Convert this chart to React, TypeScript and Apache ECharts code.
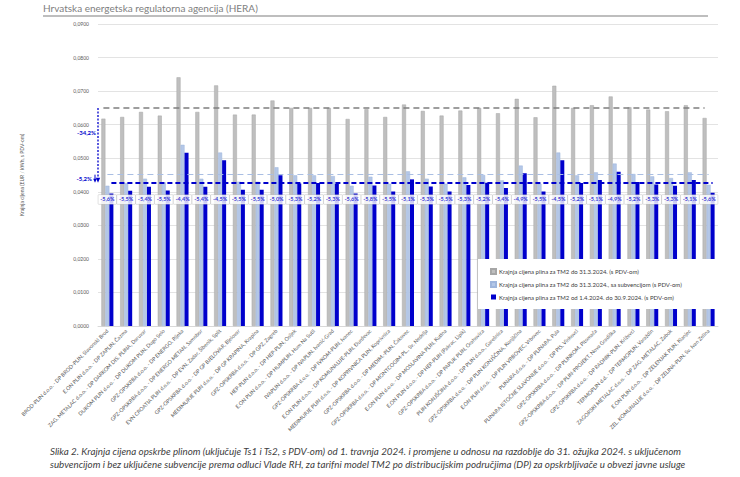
import React, { useEffect, useRef } from "react";
import * as echarts from "echarts";

const categories = [
  "BROD-PLIN d.o.o. - DP BROD-PLIN, Slavonski Brod",
  "E.ON PLIN d.o.o. - DP ZAPLIN, Čazma",
  "ZAG. METALAC d.o.o. - DP DARKOM DIS. PLINA, Daruvar",
  "DUKOM PLIN d.o.o. - DP DUKOM PLIN, Dugo Selo",
  "GPZ-OPSKRBA d.o.o. - DP ENERGO, Rijeka",
  "GPZ-OPSKRBA d.o.o. - DP ENERGO METAN, Samobor",
  "EVN CROATIA PLIN d.o.o. - DP EVN, Zadar, Šibenik, Split",
  "GPZ-OPSKRBA d.o.o. - DP GP BJELOVAR, Bjelovar",
  "MEĐIMURJE PLIN d.o.o. - DP GP KRAPINA, Krapina",
  "GPZ-OPSKRBA d.o.o. - DP GPZ, Zagreb",
  "HEP-PLIN d.o.o. - DP HEP-PLIN, Osijek",
  "E.ON PLIN d.o.o. - DP HUMPLIN, Hum Na Sutli",
  "IVAPLIN d.o.o. - DP IVAPLIN, Ivanić-Grad",
  "GPZ-OPSKRBA d.o.o. - DP IVKOM-PLIN, Ivanec",
  "E.ON PLIN d.o.o. - DP KOMUNALIJE-PLIN, Đurđevac",
  "MEĐIMURJE PLIN d.o.o. - DP KOPRIVNICA PLIN, Koprivnica",
  "GPZ-OPSKRBA d.o.o. - DP MEĐIM.-PLIN, Čakovec",
  "GPZ-OPSKRBA d.o.o. - DP MONTCOGIM-PL., Sv. Nedelja",
  "E.ON PLIN d.o.o. - DP MOSLAVINA PLIN, Kutina",
  "E.ON PLIN d.o.o. - DP HEP-PLIN (Pakrac, Lipik)",
  "GPZ-OPSKRBA d.o.o. - DP PAPUK PLIN, Orahovica",
  "PLIN KONJŠČINA d.o.o. - DP PLIN d.o.o., Garešnica",
  "GPZ-OPSKRBA d.o.o. - DP PLIN KONJŠČINA, Konjščina",
  "E.ON PLIN d.o.o. - DP PLIN VRBOVEC, Vrbovec",
  "PLINARA d.o.o. - DP PLINARA, Pula",
  "PLINARA ISTOČNE SLAVONIJE d.o.o. - DP PIS, Vinkovci",
  "GPZ-OPSKRBA d.o.o. - DP PLINKOM, Pitomača",
  "GPZ-OPSKRBA d.o.o. - DP PLIN-PROJEKT, Nova Gradiška",
  "GPZ-OPSKRBA d.o.o. - DP RADNIK-PLIN, Križevci",
  "TERMOPLIN d.d. - DP TERMOPLIN, Varaždin",
  "ZAGORSKI METALAC d.o.o. - DP ZAG. METALAC, Zabok",
  "E.ON PLIN d.o.o. - DP ZELENJAK PLIN, Klanjec",
  "ZEL. KOMUNALIJE d.o.o. - DP ZELINA-PLIN, Sv. Ivan Zelina",
];

const priceBefore = [
  0.0618, 0.0623, 0.0638, 0.0627, 0.0741, 0.0638, 0.0717, 0.063, 0.063, 0.0672, 0.065,
  0.065, 0.065, 0.0617, 0.0646, 0.0623, 0.066, 0.0641, 0.0627, 0.0642, 0.065, 0.0634,
  0.0677, 0.0622, 0.0716, 0.065, 0.0658, 0.0684, 0.0652, 0.0645, 0.064, 0.0658, 0.062,
];

const priceSubsidized = [
  0.0418, 0.0426, 0.0439, 0.0428, 0.054, 0.0439, 0.0517, 0.043, 0.043, 0.0473, 0.0449,
  0.0449, 0.0447, 0.0418, 0.0445, 0.0424, 0.0461, 0.0439, 0.0424, 0.0443, 0.045, 0.0434,
  0.0478, 0.0424, 0.0517, 0.0449, 0.0458, 0.0484, 0.0453, 0.0446, 0.0441, 0.0458, 0.0421,
];

const priceNew = [
  0.0395, 0.0403, 0.0415, 0.0404, 0.0516, 0.0415, 0.0494, 0.0406, 0.0406, 0.0449, 0.0425,
  0.0426, 0.0423, 0.0395, 0.0419, 0.0401, 0.0437, 0.0416, 0.0401, 0.042, 0.0427, 0.0411,
  0.0455, 0.0401, 0.0494, 0.0426, 0.0435, 0.046, 0.0429, 0.0422, 0.0418, 0.0435, 0.0397,
];

const changePct = [
  -5.6, -5.5, -5.4, -5.5, -4.4, -5.4, -4.5, -5.5, -5.5, -5.0, -5.3,
  -5.2, -5.3, -5.6, -5.8, -5.5, -5.1, -5.3, -5.5, -5.3, -5.2, -5.4,
  -4.9, -5.5, -4.5, -5.2, -5.1, -4.9, -5.2, -5.3, -5.3, -5.1, -5.6,
];

const avgBefore = 0.065;
const avgSubsidized = 0.0451;
const avgNew = 0.0427;
const avgChangeTotal = "-34,2%";
const avgChangeSub = "-5,2%";
const labelLevel = 0.0377;

const seriesNames = [
  "Krajnja cijena plina za TM2 do 31.3.2024. (s PDV-om)",
  "Krajnja cijena plina za TM2 do 31.3.2024., sa subvencijom (s PDV-om)",
  "Krajnja cijena plina za TM2 od 1.4.2024. do 30.9.2024. (s PDV-om)",
];

const headerText = "Hrvatska energetska regulatorna agencija (HERA)";
const captionLines = [
  "Slika 2. Krajnja cijena opskrbe plinom (uključuje Ts1 i Ts2, s PDV-om) od 1. travnja 2024. i promjene u odnosu na razdoblje do 31. ožujka 2024. s uključenom",
  "subvencijom i bez uključene subvencije prema odluci Vlade RH, za tarifni model TM2 po distribucijskim područjima (DP) za opskrbljivače u obvezi javne usluge",
];

const FONT = "Lato, 'Open Sans', sans-serif";
const GRAY = "#BFBFBF";
const LIGHT = "#B4C7E7";
const BLUE = "#0000CC";
const fmtPct = (v: number) => `${v.toFixed(1).replace(".", ",")}%`;

export default function App() {
  const ref = useRef<HTMLDivElement>(null);
  useEffect(() => {
    if (!ref.current) return;
    const chart = echarts.init(ref.current, null, { renderer: "svg" });
    const option: any = {
      animation: false,
      backgroundColor: "#fff",
      textStyle: { fontFamily: FONT },
      grid: { left: 98, right: 22, top: 24, bottom: 151, outerBoundsMode: "none" },
      legend: {
        data: seriesNames,
        orient: "vertical",
        left: 478,
        top: 259,
        backgroundColor: "#fff",
        padding: [9, 40, 9, 12],
        itemGap: 6,
        itemWidth: 5,
        itemHeight: 5,
        icon: "rect",
        textStyle: { fontSize: 6, color: "#404040", fontFamily: FONT, padding: [0, 0, 0, -2] },
      },
      xAxis: {
        type: "category",
        data: categories,
        axisTick: { show: false },
        axisLine: { lineStyle: { color: "#D9D9D9" } },
        axisLabel: { rotate: 45, interval: 0, fontSize: 5.3, color: "#595959", margin: 4 },
      },
      yAxis: {
        type: "value",
        min: 0,
        max: 0.09,
        interval: 0.01,
        name: "Krajnja cijena (EUR / kWh, s PDV-om)",
        nameLocation: "middle",
        nameRotate: 90,
        nameGap: 74,
        nameTextStyle: { fontSize: 5, color: "#595959" },
        axisLine: { show: false },
        axisTick: { show: false },
        splitLine: { lineStyle: { color: "#E3E3E3", width: 1 } },
        axisLabel: {
          fontSize: 5,
          color: "#595959",
          margin: 9,
          formatter: (v: number) => v.toFixed(4).replace(".", ","),
        },
      },
      series: [
        {
          name: seriesNames[0],
          type: "bar",
          data: priceBefore,
          barWidth: 4,
          barGap: "0%",
          itemStyle: { color: GRAY, borderColor: "#A6A6A6", borderWidth: 0.5 },
          markLine: {
            silent: true,
            symbol: "none",
            label: { show: false },
            lineStyle: { type: [6, 4], color: "#7F7F7F", width: 1.6 },
            data: [[{ xAxis: categories[0], yAxis: avgBefore }, { xAxis: categories[32], yAxis: avgBefore }]],
          },
        },
        {
          name: seriesNames[1],
          type: "bar",
          data: priceSubsidized,
          barWidth: 4,
          barGap: "0%",
          itemStyle: { color: LIGHT, borderColor: "#9FB6DD", borderWidth: 0.5 },
          markLine: {
            silent: true,
            symbol: "none",
            label: { show: false },
            lineStyle: { type: [6, 4], color: "#A9BEE3", width: 1.2 },
            data: [[{ xAxis: categories[0], yAxis: avgSubsidized }, { xAxis: categories[32], yAxis: avgSubsidized }]],
          },
        },
        {
          name: seriesNames[2],
          type: "bar",
          data: priceNew,
          barWidth: 4,
          barGap: "0%",
          itemStyle: { color: BLUE },
          markLine: {
            silent: true,
            symbol: "none",
            label: { show: false },
            lineStyle: { type: [5, 3], color: BLUE, width: 1.8 },
            data: [[{ xAxis: categories[0], yAxis: avgNew }, { xAxis: categories[32], yAxis: avgNew }]],
          },
        },
        {
          name: "labels",
          type: "scatter",
          data: categories.map(() => labelLevel),
          symbolSize: 1,
          itemStyle: { color: "rgba(0,0,0,0)" },
          silent: true,
          z: 10,
          labelLayout: { hideOverlap: false },
          label: {
            show: true,
            position: "inside",
            offset: [3, 0],
            formatter: (p: any) => fmtPct(changePct[p.dataIndex]),
            fontSize: 5.5,
            fontWeight: "bold",
            color: BLUE,
            backgroundColor: "#fff",
            borderColor: "#BFBFBF",
            borderWidth: 0.5,
            padding: [2, 2, 1, 2],
          },
        },
      ],
    };
    chart.setOption(option);

    const px = (v: number) => chart.convertToPixel({ yAxisIndex: 0 }, v) as number;
    const yG = px(avgBefore);
    const yL = px(avgSubsidized);
    const yB = px(avgNew);
    const X = 98;
    const XS = 95;

    chart.setOption({
      graphic: [
        {
          type: "text",
          left: 43,
          top: 3,
          style: { text: headerText, font: `10px ${FONT}`, fill: "#808080" },
        },
        {
          type: "line",
          shape: { x1: 43, y1: 16, x2: 708, y2: 16 },
          style: { stroke: "#7F7F7F", lineWidth: 1.2 },
        },
        {
          type: "line",
          shape: { x1: X, y1: yG, x2: X, y2: yB - 4 },
          style: { stroke: BLUE, lineWidth: 1.3, lineDash: [2, 1.5] },
          z: 20,
        },
        {
          type: "polygon",
          shape: { points: [[X - 2.2, yB - 5], [X + 2.2, yB - 5], [X, yB]] },
          style: { fill: BLUE },
          z: 20,
        },
        {
          type: "line",
          shape: { x1: XS, y1: yL, x2: XS, y2: yB - 3 },
          style: { stroke: BLUE, lineWidth: 1 },
          z: 20,
        },
        {
          type: "polygon",
          shape: { points: [[XS - 1.8, yB - 4], [XS + 1.8, yB - 4], [XS, yB]] },
          style: { fill: BLUE },
          z: 20,
        },
        {
          type: "text",
          x: X - 2,
          y: yG + (yB - yG) * 0.33,
          style: {
            text: avgChangeTotal,
            font: `bold 6px ${FONT}`,
            fill: BLUE,
            align: "right",
            verticalAlign: "middle",
            backgroundColor: "#fff",
          },
          z: 20,
        },
        {
          type: "text",
          x: XS - 3,
          y: (yL + yB) / 2,
          style: {
            text: avgChangeSub,
            font: `bold 6px ${FONT}`,
            fill: BLUE,
            align: "right",
            verticalAlign: "middle",
          },
          z: 20,
        },
        {
          type: "text",
          left: 50,
          top: 446,
          style: { text: captionLines[0], font: `italic 9.8px ${FONT}`, fill: "#404040" },
        },
        {
          type: "text",
          left: 50,
          top: 459,
          style: { text: captionLines[1], font: `italic 9.8px ${FONT}`, fill: "#404040" },
        },
      ],
    });
    return () => chart.dispose();
  }, []);

  return (
    <div
      ref={ref}
      style={{ position: "absolute", left: 0, top: 0, width: 740, height: 477, background: "#fff" }}
    />
  );
}
